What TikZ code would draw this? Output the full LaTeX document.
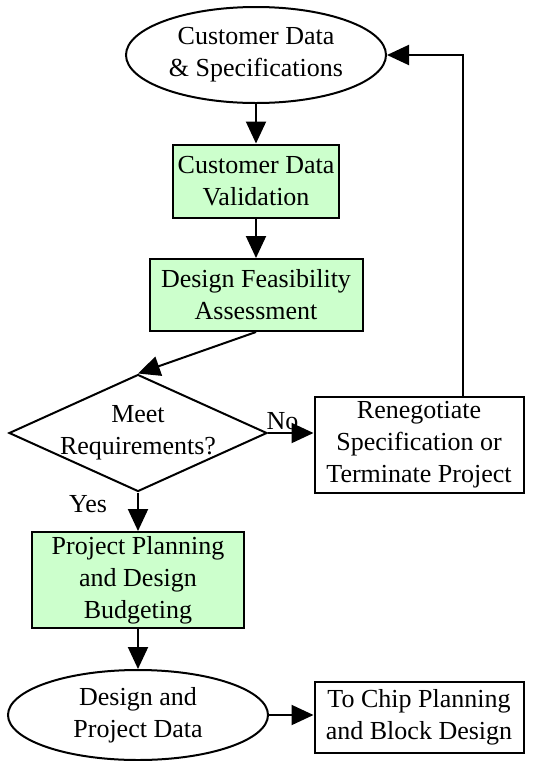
\documentclass[tikz,border=0pt]{standalone}
\usepackage{fontspec}
\setmainfont{Liberation Serif}
\usepackage{tikz}
\usetikzlibrary{arrows.meta,positioning,shapes.geometric,calc}
\definecolor{palegreen}{HTML}{CCFFCC}
\tikzset{
  term/.style={draw, ellipse, inner sep=0pt, align=center, minimum width=130pt},
  act/.style={draw, fill=palegreen, inner sep=0pt, align=center},
  txt/.style={draw, inner sep=0pt, align=center, minimum width=104.5pt},
  dec/.style={draw, diamond, aspect=2.2, inner sep=-8pt, align=center, minimum width=129pt, minimum height=58.5pt},
  arr/.style={-{Triangle[length=11pt,width=10pt]}},
  lbl/.style={inner sep=1pt}
}
\begin{document}
\begin{tikzpicture}[x=0.5pt, y=-0.5pt, font=\fontsize{13pt}{16pt}\selectfont, line width=1pt]
\useasboundingbox (0,0) rectangle (533,761);
\node[term, minimum height=48pt] (spec) at (256,55) {Customer Data\\\& Specifications};
\node[act, minimum width=83pt, minimum height=36.5pt] (valid) at (256,181) {Customer Data\\Validation};
\node[act, minimum width=106.5pt, minimum height=36pt] (feas) at (256,295) {Design Feasibility\\Assessment};
\node[dec] (meet) at (138,433) {Meet\\Requirements?};
\node[txt, minimum height=48pt] (reneg) at (419,445) {Renegotiate\\Specification or\\Terminate Project};
\node[act, minimum width=106pt, minimum height=48pt] (plan) at (138,580) {Project Planning\\and Design\\Budgeting};
\node[term, minimum height=45pt] (data) at (138,715) {Design and\\Project Data};
\node[txt, minimum height=35.5pt] (chip) at (419,717) {To Chip Planning\\and Block Design};
\draw[arr] (spec) -- (valid);
\draw[arr] (valid) -- (feas);
\draw[arr] (feas.south) -- (meet.north);
\draw[arr] (meet.east) -- node[lbl, above, pos=0.32] {No} (meet.east -| reneg.west);
\draw[arr] ([xshift=22pt]reneg.north) |- (spec.east);
\draw[arr] (meet.south) -- node[lbl, left=14pt, pos=0.3] {Yes} (plan.north);
\draw[arr] (plan) -- (data);
\draw[arr] (data.east) -- (data.east -| chip.west);
\end{tikzpicture}
\end{document}
